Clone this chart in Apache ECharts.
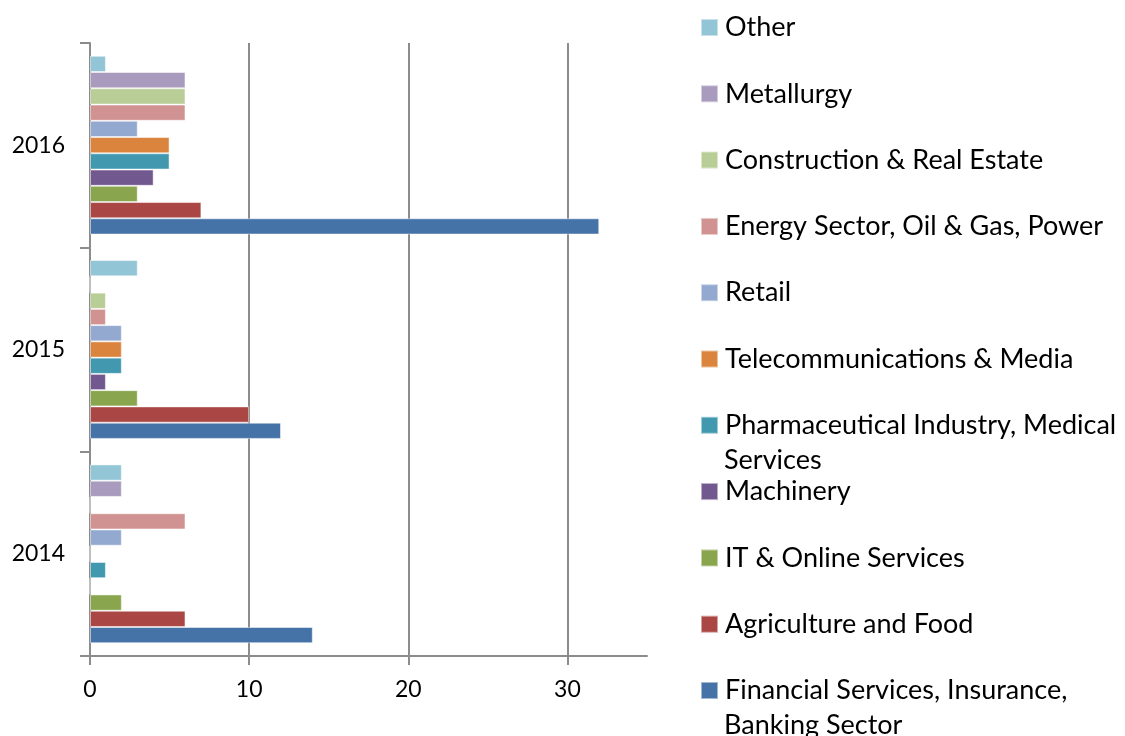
<!DOCTYPE html>
<html>
<head>
<meta charset="utf-8">
<script src="https://cdn.jsdelivr.net/npm/echarts@6/dist/echarts.min.js"></script>
<style>
  html, body { margin: 0; padding: 0; background: #fff; }
  #chart { width: 1125px; height: 736px; }
</style>
</head>
<body>
<div id="chart"></div>
<script>
var years = ['2014', '2015', '2016']

// series names, top to bottom inside each year
var sectors = [
  'Other',
  'Metallurgy',
  'Construction & Real Estate',
  'Energy Sector, Oil & Gas, Power',
  'Retail',
  'Telecommunications & Media',
  'Pharmaceutical Industry, Medical Services',
  'Machinery',
  'IT & Online Services',
  'Agriculture and Food',
  'Financial Services, Insurance, Banking Sector'
]

// values per sector for 2014, 2015, 2016
var other        = [2, 3, 1]
var metallurgy   = [2, 0, 6]
var construction = [0, 1, 6]
var energy       = [6, 1, 6]
var retail       = [2, 2, 3]
var telecom      = [0, 2, 5]
var pharma       = [1, 2, 5]
var machinery    = [0, 1, 4]
var itOnline     = [2, 3, 3]
var agriculture  = [6, 10, 7]
var financial    = [14, 12, 32]

var values = [other, metallurgy, construction, energy, retail, telecom,
  pharma, machinery, itOnline, agriculture, financial]

var colors = ['#92C5D5', '#A99BBD', '#B9CD96', '#D19392', '#93A9CF', '#DB843D',
  '#4198AF', '#71588F', '#89A54E', '#AA4643', '#4572A7']

var xTicks = [0, 10, 20, 30]

// legend labels that wrap onto a second line
var legendLines = {
  'Pharmaceutical Industry, Medical Services': ['Pharmaceutical Industry, Medical', 'Services'],
  'Financial Services, Insurance, Banking Sector': ['Financial Services, Insurance,', 'Banking Sector']
}

var font = 'Lato, "Open Sans", sans-serif'

var chart = echarts.init(document.getElementById('chart'))

var series = sectors.map(function (name, i) {
  return {
    name: name,
    type: 'bar',
    data: values[i],
    barGap: '0%',
    barCategoryGap: '12.5%',
    itemStyle: { color: colors[i], borderColor: 'rgba(255,255,255,0.5)', borderWidth: 1 },
    animation: false
  }
})

// one legend per entry so the spacing stays fixed, as in the original
var legends = []
var graphics = []
sectors.forEach(function (name, i) {
  var top = 14 + i * 66.3
  legends.push({
    data: [name],
    orient: 'vertical',
    left: 700,
    top: top,
    padding: 0,
    itemWidth: 17,
    itemHeight: 17,
    itemGap: 0,
    icon: 'rect',
    selectedMode: false,
    formatter: function (n) { return legendLines[n] ? legendLines[n][0] : n },
    textStyle: { fontFamily: font, fontSize: 27, color: '#000', padding: [0, 0, 0, 2] }
  })
  if (legendLines[name]) {
    graphics.push({
      type: 'text',
      left: 724,
      top: top + 35,
      style: { text: legendLines[name][1], font: '27px ' + font, fill: '#000' }
    })
  }
})

chart.setOption({
  backgroundColor: '#fff',
  color: colors,
  animation: false,
  grid: { left: 90, right: 478, top: 43, bottom: 80, containLabel: false },
  legend: legends,
  graphic: graphics,
  xAxis: {
    type: 'value',
    min: 0,
    max: 35,
    interval: 10,
    axisLine: { show: true, lineStyle: { color: '#8c8c8c', width: 2 } },
    axisTick: { show: true, length: 9, customValues: xTicks, lineStyle: { color: '#8c8c8c', width: 2 } },
    axisLabel: {
      margin: 22,
      fontFamily: font,
      fontSize: 23,
      color: '#000',
      customValues: xTicks
    },
    splitLine: { show: true, lineStyle: { color: '#8c8c8c', width: 2 } }
  },
  yAxis: {
    type: 'category',
    data: years,
    axisLine: { show: true, lineStyle: { color: '#8c8c8c', width: 2 } },
    axisTick: { show: true, length: 10, alignWithLabel: false, lineStyle: { color: '#8c8c8c', width: 2 } },
    axisLabel: { margin: 25, fontFamily: font, fontSize: 23, color: '#000' }
  },
  series: series
})
</script>
</body>
</html>
